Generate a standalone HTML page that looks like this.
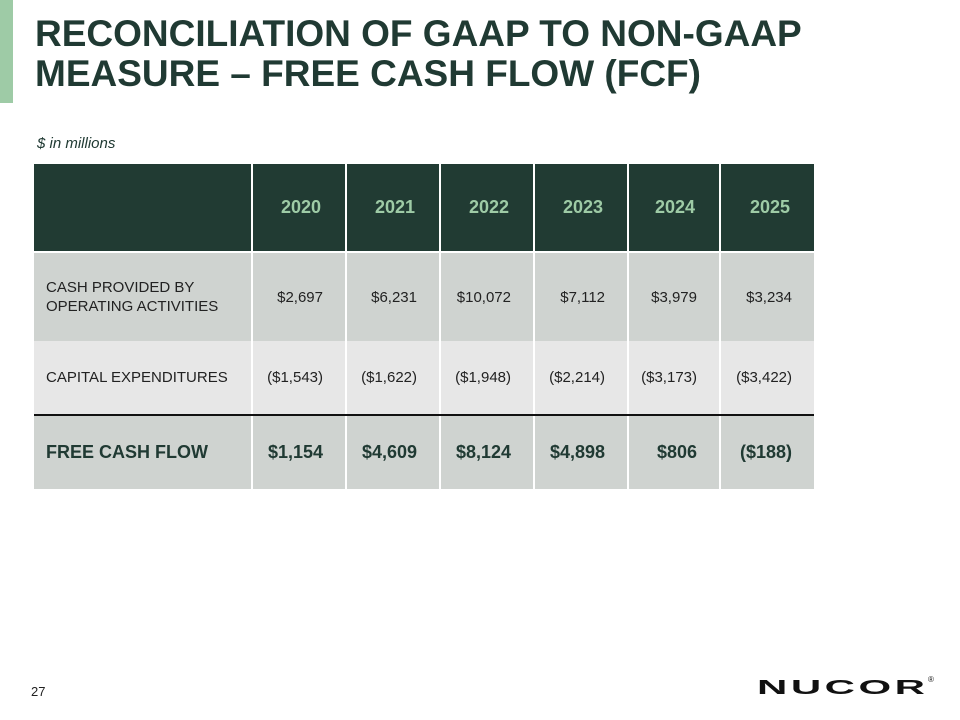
<!DOCTYPE html>
<html><head><meta charset="utf-8"><style>
body{margin:0;width:960px;height:720px;background:#fff;font-family:"Liberation Sans",Arial,sans-serif;position:relative;overflow:hidden}
.bar{position:absolute;left:0;top:0;width:13px;height:103px;background:#9ecba6}
h1{position:absolute;left:35px;top:14px;margin:0;font-size:37px;line-height:40px;font-weight:bold;color:#203a33}
.unit{position:absolute;left:37px;top:135px;font-size:15px;font-style:italic;color:#203a33}
table{position:absolute;left:34px;top:164px;border-collapse:collapse;table-layout:fixed}
td{padding:0 22px 0 0;text-align:right;border-left:2px solid #fff;font-size:15px;color:#222}
td:first-child{border-left:none;text-align:left;padding:0 0 0 12px}
tr.h td{background:#213b33;color:#9ecba6;font-weight:bold;font-size:18px;height:87px;border-bottom:2px solid #fff;padding-right:24px}
tr.h td:first-child{padding-right:0}
tr.r1 td{background:#cfd3d0;height:88px}
tr.r2 td{background:#e7e7e7;height:73px;border-bottom:2px solid #111}
tr.r3 td{background:#cfd3d0;height:73px;font-weight:bold;font-size:18px;color:#203a33}
.pg{position:absolute;left:31px;top:684px;font-size:13px;color:#222}
.logo{position:absolute;left:757px;top:676px;font-size:24px;font-weight:900;letter-spacing:2px;color:#111;transform:scaleX(1.75) scaleY(0.85);transform-origin:left top}
.reg{position:absolute;left:928px;top:675px;font-size:8px;color:#111}
</style></head><body>
<div class="bar"></div>
<h1>RECONCILIATION OF GAAP TO NON-GAAP<br>MEASURE – FREE CASH FLOW (FCF)</h1>
<div class="unit">$ in millions</div>
<table>
<colgroup><col style="width:218px"><col style="width:94px"><col style="width:94px"><col style="width:94px"><col style="width:94px"><col style="width:92px"><col style="width:94px"></colgroup>
<tr class="h"><td></td><td>2020</td><td>2021</td><td>2022</td><td>2023</td><td>2024</td><td>2025</td></tr>
<tr class="r1"><td style="line-height:19px">CASH PROVIDED BY<br>OPERATING ACTIVITIES</td><td>$2,697</td><td>$6,231</td><td>$10,072</td><td>$7,112</td><td>$3,979</td><td>$3,234</td></tr>
<tr class="r2"><td>CAPITAL EXPENDITURES</td><td>($1,543)</td><td>($1,622)</td><td>($1,948)</td><td>($2,214)</td><td>($3,173)</td><td>($3,422)</td></tr>
<tr class="r3"><td>FREE CASH FLOW</td><td>$1,154</td><td>$4,609</td><td>$8,124</td><td>$4,898</td><td>$806</td><td>($188)</td></tr>
</table>
<div class="pg">27</div>
<div class="logo">NUCOR</div>
<div class="reg">®</div>
</body></html>
